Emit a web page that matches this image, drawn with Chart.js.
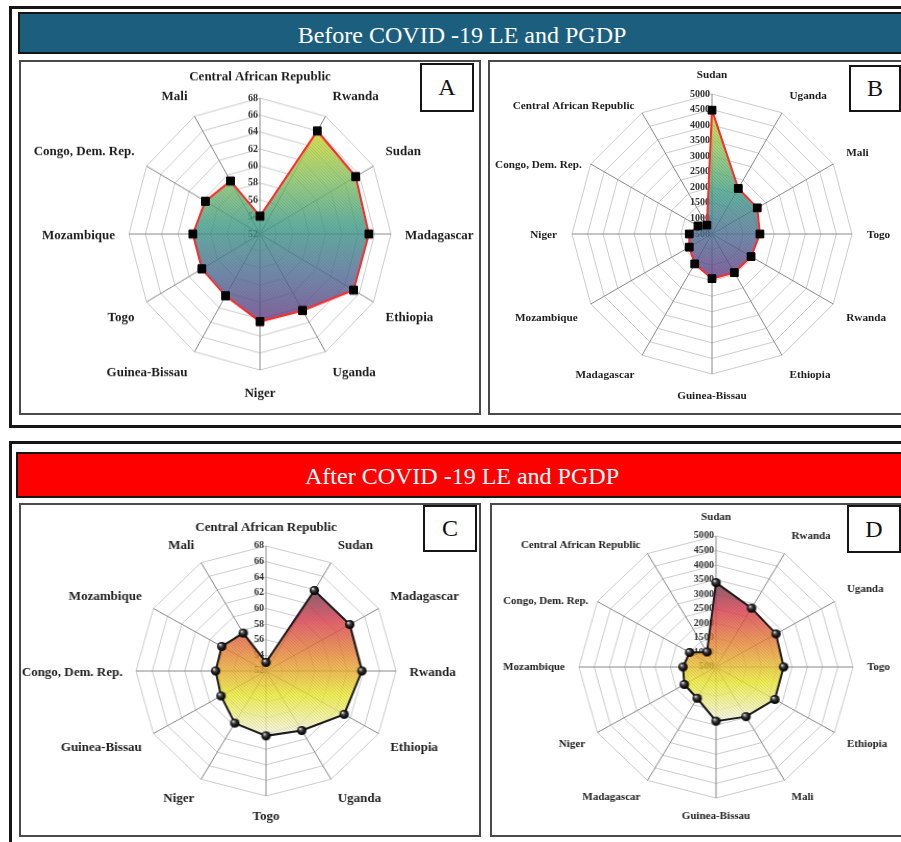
<!DOCTYPE html>
<html>
<head>
<meta charset="utf-8">
<script src="https://cdn.jsdelivr.net/npm/chart.js@4.4.0/dist/chart.umd.min.js"></script>
<style>
  html, body { margin: 0; padding: 0; background: #fff; }
  body { width: 901px; height: 842px; overflow: hidden; position: relative;
         font-family: "Liberation Serif", "Times New Roman", serif; }
  .frame { position: absolute; box-sizing: border-box; border: 3px solid #151515; }
  .bar { position: absolute; box-sizing: border-box; border: 2px solid #151515; color: #fff;
         font-size: 24px; display: flex; align-items: center; justify-content: center; }
  .panel { position: absolute; box-sizing: border-box; border: 2px solid #4a4a4a; background: #fff; }
  .tag { position: absolute; box-sizing: border-box; border: 2px solid #151515; background: #fff;
         font-size: 24px; display: flex; align-items: center; justify-content: center; color: #111; }
  canvas { position: absolute; }
</style>
</head>
<body>
  <div class="frame" style="left:9px;top:6px;width:920px;height:422px;"></div>
  <div class="frame" style="left:9px;top:441px;width:920px;height:420px;"></div>

  <div class="bar" style="left:18px;top:12px;width:888px;height:42px;padding-top:4px;background:#1b5e7e;">Before COVID -19 LE and PGDP</div>
  <div class="bar" style="left:16px;top:452px;width:892px;height:46px;padding-top:2px;background:#ff0000;">After COVID -19 LE and PGDP</div>

  <div class="panel" style="left:19px;top:60px;width:462px;height:355px;"></div>
  <div class="panel" style="left:488px;top:60px;width:430px;height:355px;"></div>
  <div class="panel" style="left:19px;top:503px;width:462px;height:334px;"></div>
  <div class="panel" style="left:490px;top:503px;width:430px;height:334px;"></div>

  <canvas id="chartA" width="457" height="350"
          style="left:21px;top:62px;transform-origin:239px 172px;transform:scaleY(1.038);"></canvas>
  <canvas id="chartB" width="428" height="350"
          style="left:490px;top:62px;"></canvas>
  <canvas id="chartC" width="457" height="329"
          style="left:21px;top:505px;transform-origin:245px 166px;transform:scaleX(1.04);"></canvas>
  <canvas id="chartD" width="420" height="329"
          style="left:493px;top:505px;transform-origin:223px 162px;transform:scaleX(1.046);"></canvas>

  <div class="tag" style="left:420px;top:63px;width:54px;height:49px;">A</div>
  <div class="tag" style="left:849px;top:65px;width:52px;height:47px;">B</div>
  <div class="tag" style="left:423px;top:505px;width:54px;height:47px;">C</div>
  <div class="tag" style="left:847px;top:505px;width:54px;height:48px;">D</div>

<script>
// ---- Life expectancy (years) and per-capita GDP, before and after COVID-19 ----
const leTicks  = [52, 54, 56, 58, 60, 62, 64, 66, 68];
const gdpTicks = [500, 1000, 1500, 2000, 2500, 3000, 3500, 4000, 4500, 5000];

const countriesLeBefore = ['Central African Republic', 'Rwanda', 'Sudan', 'Madagascar', 'Ethiopia', 'Uganda',
                           'Niger', 'Guinea-Bissau', 'Togo', 'Mozambique', 'Congo, Dem. Rep.', 'Mali'];
const leBefore = [54.1, 66.0, 65.5, 65.3, 65.2, 62.4, 62.3, 60.4, 60.2, 60.2, 59.7, 59.2];

const countriesGdpBefore = ['Sudan', 'Uganda', 'Mali', 'Togo', 'Rwanda', 'Ethiopia',
                            'Guinea-Bissau', 'Madagascar', 'Mozambique', 'Niger', 'Congo, Dem. Rep.', 'Central African Republic'];
const gdpBefore = [4480, 2190, 2180, 2040, 1950, 1935, 1935, 1610, 1345, 1230, 1020, 830];

const countriesLeAfter = ['Central African Republic', 'Sudan', 'Madagascar', 'Rwanda', 'Ethiopia', 'Uganda',
                          'Togo', 'Niger', 'Guinea-Bissau', 'Congo, Dem. Rep.', 'Mozambique', 'Mali'];
const leAfter = [53.1, 63.9, 63.9, 63.8, 63.1, 60.8, 60.3, 59.7, 58.4, 58.2, 58.3, 57.6];

const countriesGdpAfter = ['Sudan', 'Rwanda', 'Uganda', 'Togo', 'Ethiopia', 'Mali',
                           'Guinea-Bissau', 'Madagascar', 'Niger', 'Mozambique', 'Congo, Dem. Rep.', 'Central African Republic'];
const gdpAfter = [3400, 2835, 2775, 2720, 2730, 2470, 2360, 1740, 1700, 1585, 1500, 1095];

// Colour ramps for the filled areas (top of the shape -> bottom)
const viridisRamp = [[0, '#d9e04f'], [0.25, '#9dcf7f'], [0.5, '#62b0a0'], [0.75, '#7189aa'], [1, '#83629d']];
const warmRamp    = [[0, '#8a5f6e'], [0.2, '#e2606e'], [0.45, '#eea05a'], [0.72, '#eeee55'], [1, '#f6f6ea']];

// Colour that gives `hex` once laid over white with opacity `a`
function veil(hex, a) {
  const n = parseInt(hex.slice(1), 16);
  const ch = [(n >> 16) & 255, (n >> 8) & 255, n & 255]
    .map(t => Math.max(0, Math.min(255, Math.round((t - 255 * (1 - a)) / a))));
  return `rgba(${ch[0]},${ch[1]},${ch[2]},${a})`;
}

// Vertical gradient spanning the data shape, with a fine diagonal hatch
function shapeFill(chart, ramp) {
  const s = chart.scales.r;
  if (!s || !chart.chartArea) return 'rgba(0,0,0,0)';
  const vals = chart.data.datasets[0].data;
  const ys = vals.map((v, i) => s.getPointPositionForValue(i, v).y);
  const top = Math.min(...ys), bot = Math.max(...ys);
  const off = document.createElement('canvas');
  off.width = chart.width; off.height = chart.height;
  const c = off.getContext('2d');
  const g = c.createLinearGradient(0, top, 0, bot);
  ramp.forEach(([p, col]) => g.addColorStop(p, veil(col, 0.8)));
  c.fillStyle = g;
  c.fillRect(0, 0, off.width, off.height);
  c.strokeStyle = 'rgba(40,40,40,0.10)';
  c.lineWidth = 1;
  for (let k = -off.height; k < off.width; k += 3) {
    c.beginPath(); c.moveTo(k, 0); c.lineTo(k + off.height, off.height); c.stroke();
  }
  return chart.ctx.createPattern(off, 'no-repeat');
}

// Small glossy black ball used as point marker
function glossyBall(r) {
  const d = Math.ceil(r * 2) + 2;
  const c = document.createElement('canvas');
  c.width = c.height = d;
  const x = c.getContext('2d'), m = d / 2;
  const g = x.createRadialGradient(m - r * 0.35, m - r * 0.4, r * 0.1, m, m, r);
  g.addColorStop(0, '#dcdcdc'); g.addColorStop(0.3, '#4a4a4a');
  g.addColorStop(0.7, '#121212'); g.addColorStop(1, '#000');
  x.fillStyle = g;
  x.beginPath(); x.arc(m, m, r, 0, Math.PI * 2); x.fill();
  return c;
}

// Tick values beside the vertical axis and country names round the web
const axisText = {
  id: 'axisText',
  beforeDatasetsDraw(chart, args, opts) {
    const s = chart.scales.r, ctx = chart.ctx;
    ctx.save();
    ctx.fillStyle = '#333333';
    ctx.font = `bold ${opts.tickSize}px "Liberation Serif"`;
    ctx.textAlign = 'right';
    ctx.textBaseline = 'middle';
    opts.ticks.forEach(v => {
      ctx.fillText(String(v), s.xCenter - 2, s.yCenter - s.getDistanceFromCenterForValue(v));
    });
    ctx.fillStyle = '#1e1e1e';
    ctx.font = `bold ${opts.labelSize}px "Liberation Serif"`;
    chart.data.labels.forEach((lab, i) => {
      const p = s.getPointPosition(i, s.drawingArea + opts.pad);
      const deg = Math.round(s.getIndexAngle(i) * 180 / Math.PI) % 360;
      const upper = deg < 90 || deg > 270;
      ctx.textAlign = (deg === 0 || deg === 180) ? 'center' : (deg < 180 ? 'left' : 'right');
      ctx.textBaseline = (deg === 90 || deg === 270) ? 'middle' : (upper ? 'bottom' : 'top');
      const nudge = (opts.nudge && opts.nudge[lab]) || [0, 0];
      const dy = upper ? opts.dy[0] : opts.dy[1];
      ctx.fillText(lab, p.x + nudge[0], p.y + dy + nudge[1]);
    });
    ctx.restore();
  }
};

function radar(id, cfg) {
  return new Chart(document.getElementById(id), {
    type: 'radar',
    data: {
      labels: cfg.labels,
      datasets: [{
        data: cfg.values,
        fill: true,
        backgroundColor: ctx => shapeFill(ctx.chart, cfg.ramp),
        borderColor: cfg.line,
        borderWidth: 2,
        pointStyle: cfg.marker,
        pointRadius: cfg.markerSize,
        pointBackgroundColor: '#000',
        pointBorderColor: '#000',
        pointBorderWidth: 1
      }]
    },
    options: {
      responsive: false,
      animation: false,
      events: [],
      layout: { padding: cfg.padding },
      plugins: {
        legend: { display: false },
        tooltip: { enabled: false },
        axisText: { ticks: cfg.ticks, tickSize: cfg.tickSize, labelSize: cfg.labelSize,
                    pad: cfg.labelPad, dy: cfg.labelDy, nudge: cfg.labelNudge }
      },
      scales: {
        r: {
          min: cfg.ticks[0],
          max: cfg.ticks[cfg.ticks.length - 1],
          afterBuildTicks: sc => { sc.ticks = cfg.ticks.map(v => ({ value: v })); },
          ticks: { display: false },
          pointLabels: { display: false },
          grid: { color: '#cccccc', lineWidth: 1 },
          angleLines: { color: '#8a8a8a', lineWidth: 1 }
        }
      }
    },
    plugins: [axisText]
  });
}

radar('chartA', {
  labels: countriesLeBefore, values: leBefore, ticks: leTicks,
  ramp: viridisRamp, line: '#ff2a2a', marker: 'rect', markerSize: 5.5,
  padding: { left: 108, right: 87, top: 41, bottom: 47 },
  tickSize: 10, labelSize: 13, labelPad: 14, labelDy: [0, 2]
});
radar('chartB', {
  labels: countriesGdpBefore, values: gdpBefore, ticks: gdpTicks,
  ramp: viridisRamp, line: '#ff2a2a', marker: 'rect', markerSize: 5.5,
  padding: { left: 82, right: 66, top: 32, bottom: 38 },
  tickSize: 10, labelSize: 11.2, labelPad: 15, labelDy: [2, 1],
  labelNudge: { 'Central African Republic': [0, 10], 'Congo, Dem. Rep.': [4, 12] }
});
radar('chartC', {
  labels: countriesLeAfter, values: leAfter, ticks: leTicks,
  ramp: warmRamp, line: '#1a1a1a', marker: glossyBall(4.5), markerSize: 4.5,
  padding: { left: 120, right: 87, top: 41, bottom: 38 },
  tickSize: 9.6, labelSize: 12.5, labelPad: 13, labelDy: [1, 2]
});
radar('chartD', {
  labels: countriesGdpAfter, values: gdpAfter, ticks: gdpTicks,
  ramp: warmRamp, line: '#1a1a1a', marker: glossyBall(4.5), markerSize: 4.5,
  padding: { left: 92, right: 66, top: 31, bottom: 36 },
  tickSize: 9.6, labelSize: 10.5, labelPad: 13.5, labelDy: [0, 0],
  labelNudge: { 'Central African Republic': [0, 9], 'Congo, Dem. Rep.': [3, 12] }
});
</script>
</body>
</html>
